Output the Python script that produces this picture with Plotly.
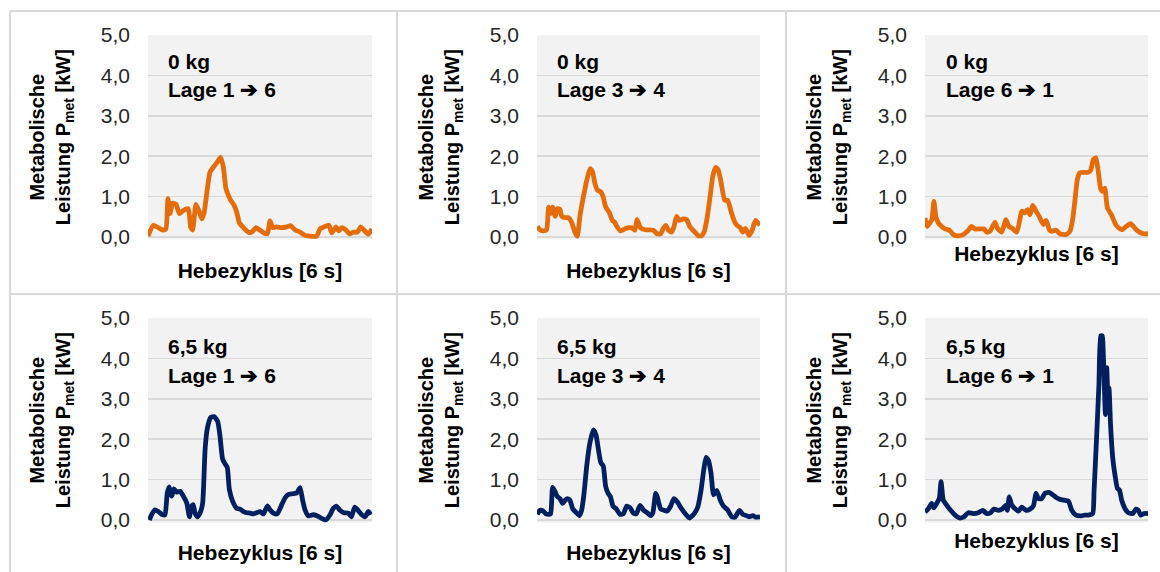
import plotly.graph_objects as go

W, H = 1160, 572

# ---------------- data (x = % of lifting cycle, y = metabolic power kW) ----------------
x_0kg_16 = [0, 2.4, 4.6, 6.8, 8.0, 8.9, 9.8, 11.0, 12.5, 14.0, 15.8, 18.0, 19.0, 19.9, 21.4, 22.9, 24.0, 25.0,
            26.2, 27.7, 29.5, 31.0, 32.4, 33.6, 34.8, 35.9, 36.9, 38.4, 39.6, 40.8, 42.6, 44.8, 46.3, 48.2, 50.0,
            51.8, 53.3, 54.5, 55.7, 57.4, 59.7, 61.9, 63.7, 65.6, 67.9, 70.1, 72.3, 75.3, 76.8, 79.0, 80.7, 82.1,
            83.9, 85.1, 86.5, 88.4, 89.9, 91.7, 93.5, 94.9, 96.4, 98.4, 100]
y_0kg_16 = [0.02, 0.29, 0.23, 0.17, 0.20, 0.95, 0.58, 0.84, 0.81, 0.58, 0.66, 0.70, 0.25, 0.17, 0.81, 0.62, 0.45, 0.58,
            1.07, 1.61, 1.75, 1.86, 1.97, 1.74, 1.20, 1.03, 0.91, 0.79, 0.62, 0.35, 0.23, 0.12, 0.12, 0.23, 0.17,
            0.10, 0.08, 0.40, 0.23, 0.25, 0.23, 0.25, 0.28, 0.18, 0.12, 0.04, 0.02, 0.02, 0.20, 0.26, 0.29, 0.10,
            0.25, 0.15, 0.23, 0.17, 0.08, 0.12, 0.12, 0.25, 0.17, 0.07, 0.20]

x_0kg_34 = [0.1, 1.3, 2.8, 4.3, 5.2, 6.1, 7.0, 8.2, 9.1, 10.3, 11.1, 12.6, 14.1, 15.5, 17.0, 18.1, 19.3, 20.8,
            22.3, 23.8, 24.9, 26.0, 27.1, 28.6, 29.7, 30.8, 32.3, 33.8, 34.8, 35.5, 37.5, 39.7, 41.9, 43.0, 43.9,
            44.9, 46.4, 48.4, 52.2, 53.7, 55.5, 56.6, 57.8, 58.9, 60.4, 61.4, 62.6, 63.8, 65.6, 67.1, 68.6, 70.8,
            72.3, 73.8, 74.9, 76.1, 77.6, 78.8, 80.0, 81.2, 82.4, 84.2, 85.5, 87.3, 88.7, 89.7, 91.1, 92.3, 93.5,
            95.1, 96.5, 98.0, 100]
y_0kg_34 = [0.26, 0.18, 0.15, 0.18, 0.74, 0.58, 0.74, 0.51, 0.70, 0.68, 0.51, 0.48, 0.48, 0.37, 0.12, 0.02, 0.54, 0.99,
            1.40, 1.69, 1.61, 1.32, 1.16, 1.12, 0.99, 0.74, 0.62, 0.41, 0.37, 0.29, 0.15, 0.21, 0.23, 0.21, 0.17,
            0.43, 0.23, 0.18, 0.17, 0.08, 0.08, 0.21, 0.29, 0.17, 0.12, 0.25, 0.51, 0.41, 0.45, 0.43, 0.25, 0.12,
            0.03, 0.03, 0.12, 0.41, 0.99, 1.49, 1.72, 1.67, 1.40, 0.91, 0.91, 0.58, 0.37, 0.29, 0.23, 0.12, 0.21,
            0.04, 0.17, 0.41, 0.29, 0.21, 0.17]

x_0kg_61 = [0, 1.0, 2.2, 3.1, 4.0, 4.9, 6.0, 7.5, 9.0, 10.9, 12.7, 14.9, 17.2, 19.0, 20.9, 22.4, 24.4, 26.5,
            27.7, 29.1, 30.3, 31.4, 32.4, 34.4, 36.3, 37.6, 39.0, 41.2, 42.6, 43.4, 44.8, 45.9, 47.1, 48.3, 49.8,
            51.3, 53.1, 54.3, 55.8, 56.8, 58.7, 60.5, 63.2, 65.0, 66.2, 67.3, 68.3, 69.5, 71.3, 73.2, 74.3, 75.5,
            76.6, 77.6, 78.7, 79.6, 80.6, 81.8, 83.6, 85.5, 87.0, 88.5, 90.0, 92.2, 94.4, 96.2, 98.0, 100]
y_0kg_61 = [0.47, 0.26, 0.35, 0.43, 0.88, 0.50, 0.35, 0.26, 0.20, 0.17, 0.06, 0.03, 0.06, 0.14, 0.26, 0.20, 0.20, 0.20,
            0.12, 0.14, 0.26, 0.36, 0.22, 0.12, 0.43, 0.26, 0.22, 0.12, 0.45, 0.64, 0.60, 0.68, 0.55, 0.78, 0.64,
            0.50, 0.31, 0.41, 0.18, 0.14, 0.17, 0.08, 0.06, 0.14, 0.43, 0.93, 1.42, 1.59, 1.60, 1.60, 1.65, 1.92,
            1.96, 1.67, 1.21, 1.13, 1.21, 0.72, 0.55, 0.31, 0.22, 0.18, 0.25, 0.33, 0.20, 0.12, 0.08, 0.08, 0.12]

x_65kg_16 = [0.6, 1.6, 3.1, 4.6, 6.5, 7.6, 8.6, 9.5, 10.6, 11.6, 12.8, 14.3, 15.8, 17.3, 18.5, 19.5, 20.2, 21.0,
             22.0, 23.2, 24.4, 25.5, 26.5, 28.0, 29.5, 31.1, 32.1, 33.3, 34.4, 35.4, 36.3, 37.8, 39.6, 41.1, 42.6,
             44.1, 45.5, 47.0, 48.5, 50.0, 51.5, 53.3, 54.5, 56.0, 57.7, 59.7, 61.2, 62.6, 64.6, 66.4, 67.9, 69.0,
             70.1, 71.6, 73.8, 75.6, 77.5, 79.3, 81.3, 82.7, 84.2, 85.7, 87.4, 89.4, 90.8, 92.3, 93.8, 95.4, 96.9,
             98.4, 99.4]
y_65kg_16 = [0.00, 0.13, 0.25, 0.21, 0.13, 0.13, 0.67, 0.82, 0.59, 0.77, 0.69, 0.71, 0.59, 0.42, 0.08, 0.35, 0.38, 0.17,
             0.08, 0.17, 0.42, 1.76, 2.27, 2.54, 2.56, 2.44, 2.10, 1.51, 1.39, 1.30, 0.76, 0.46, 0.29, 0.27, 0.21,
             0.18, 0.17, 0.15, 0.18, 0.21, 0.15, 0.35, 0.25, 0.17, 0.15, 0.38, 0.55, 0.63, 0.65, 0.67, 0.80, 0.50,
             0.25, 0.10, 0.13, 0.10, 0.04, 0.00, 0.13, 0.29, 0.34, 0.24, 0.18, 0.17, 0.08, 0.32, 0.24, 0.13, 0.08,
             0.21, 0.13]

x_65kg_34 = [0.1, 1.3, 2.8, 4.0, 5.1, 6.1, 7.0, 8.1, 9.1, 10.3, 11.5, 12.6, 13.7, 14.8, 16.0, 17.5, 19.0, 20.0,
             21.1, 22.3, 23.8, 25.3, 26.5, 27.5, 28.6, 29.7, 30.8, 31.9, 32.9, 34.1, 35.5, 37.2, 38.7, 40.2, 41.7,
             43.2, 44.5, 46.2, 47.8, 49.6, 51.0, 52.0, 53.2, 53.9, 55.4, 56.9, 58.4, 59.9, 61.4, 62.9, 64.8, 66.6,
             68.3, 69.8, 70.9, 72.1, 73.6, 74.8, 75.8, 76.9, 78.0, 79.2, 80.7, 82.2, 83.7, 85.5, 87.3, 88.8, 90.8,
             92.3, 93.8, 95.1, 96.8, 98.0, 100]
y_65kg_34 = [0.14, 0.24, 0.22, 0.15, 0.14, 0.15, 0.81, 0.70, 0.58, 0.53, 0.41, 0.49, 0.53, 0.49, 0.28, 0.19, 0.11, 0.24,
             0.66, 1.34, 1.93, 2.23, 2.10, 1.76, 1.42, 1.34, 0.83, 0.66, 0.58, 0.34, 0.28, 0.14, 0.15, 0.34, 0.31,
             0.17, 0.15, 0.36, 0.24, 0.17, 0.11, 0.19, 0.66, 0.58, 0.28, 0.24, 0.22, 0.34, 0.53, 0.45, 0.28, 0.15,
             0.05, 0.11, 0.19, 0.32, 0.75, 1.25, 1.55, 1.47, 1.17, 0.62, 0.73, 0.49, 0.34, 0.25, 0.08, 0.07, 0.24,
             0.14, 0.11, 0.08, 0.11, 0.07, 0.08]

x_65kg_61 = [0, 1.5, 3.0, 4.0, 5.2, 6.4, 7.2, 8.2, 9.7, 11.5, 13.5, 15.4, 17.2, 19.4, 21.7, 23.9, 25.9, 27.6, 29.4,
             30.9, 32.9, 34.8, 36.3, 36.9, 37.8, 38.9, 40.4, 41.9, 43.4, 45.3, 47.1, 48.6, 49.8, 50.8, 52.3, 53.8,
             55.8, 57.6, 59.0, 60.5, 62.3, 64.3, 65.8, 67.7, 69.5, 71.7, 73.2, 75.2, 75.8, 77.0, 78.0, 78.8, 79.5,
             79.9, 80.4, 80.9, 81.5, 82.0, 82.5, 83.2, 84.2, 85.2, 86.3, 87.2, 88.2, 89.7, 91.2, 93.2, 94.6, 95.7,
             96.7, 98.2, 100]
y_65kg_61 = [0.20, 0.28, 0.41, 0.30, 0.41, 0.53, 0.95, 0.49, 0.37, 0.24, 0.12, 0.05, 0.07, 0.18, 0.16, 0.18, 0.24, 0.16,
             0.18, 0.27, 0.24, 0.28, 0.37, 0.24, 0.57, 0.37, 0.28, 0.22, 0.32, 0.24, 0.27, 0.35, 0.66, 0.53, 0.53,
             0.66, 0.68, 0.61, 0.55, 0.51, 0.49, 0.47, 0.24, 0.12, 0.10, 0.12, 0.12, 0.16, 0.70, 2.11, 3.36, 4.56,
             4.56, 4.19, 3.36, 2.61, 3.77, 3.11, 3.27, 2.36, 1.53, 1.11, 0.78, 0.74, 0.49, 0.28, 0.18, 0.16, 0.27,
             0.24, 0.12, 0.16, 0.16]

titles_load = ["0 kg", "0 kg", "0 kg", "6,5 kg", "6,5 kg", "6,5 kg"]
titles_lage = ["Lage 1 \u2794 6", "Lage 3 \u2794 4", "Lage 6 \u2794 1",
               "Lage 1 \u2794 6", "Lage 3 \u2794 4", "Lage 6 \u2794 1"]
y_ticks = [0, 1, 2, 3, 4, 5]
y_ticktext = ["0,0", "1,0", "2,0", "3,0", "4,0", "5,0"]
x_title = "Hebezyklus [6 s]"
y_title = "Metabolische<br>Leistung P<sub>met</sub> [kW]"

series_x = [x_0kg_16, x_0kg_34, x_0kg_61, x_65kg_16, x_65kg_34, x_65kg_61]
series_y = [y_0kg_16, y_0kg_34, y_0kg_61, y_65kg_16, y_65kg_34, y_65kg_61]
colors = ["#E46C0A", "#E46C0A", "#E46C0A", "#002060", "#002060", "#002060"]

# ---------------- layout geometry (pixels) ----------------
col_x = [(148, 372), (537, 760), (925, 1148)]
row_y = [(35, 237), (318, 520)]   # (y of 5.0, y of 0.0)
ymin = -0.06
x_title_standoff = [23, 23, 6, 22, 22, 10]
y_title_standoff = 24


def fx(p):
    return p / W


def fy(p):
    return 1 - p / H


FONT = "Liberation Sans, Arial, sans-serif"
fig = go.Figure()
annotations = []
label_x = [166, 555, 944]
label_y = [(62, 89), (346, 375)]

for i in range(6):
    r, c = divmod(i, 3)
    n = i + 1
    xa = "xaxis" if n == 1 else f"xaxis{n}"
    ya = "yaxis" if n == 1 else f"yaxis{n}"
    y5, y0 = row_y[r]
    per = (y0 - y5) / 5.0
    ybot = y0 - ymin * per
    x0p, x1p = col_x[c]
    fig.add_trace(go.Scatter(
        x=series_x[i], y=series_y[i], mode="lines",
        line=dict(color=colors[i], width=4.8, shape="spline", smoothing=0.5),
        xaxis="x" if n == 1 else f"x{n}", yaxis="y" if n == 1 else f"y{n}",
        showlegend=False, hoverinfo="skip"))
    fig.update_layout(**{
        xa: dict(domain=[fx(x0p), fx(x1p)], range=[0, 100], showticklabels=False,
                 tickmode="array", tickvals=[],
                 showgrid=False, zeroline=False, showline=False, ticks="", automargin=False,
                 fixedrange=True, anchor="y" if n == 1 else f"y{n}",
                 title=dict(text=f"<b>{x_title}</b>", standoff=x_title_standoff[i],
                            font=dict(family=FONT, size=21, color="#000000"))),
        ya: dict(domain=[fy(ybot), fy(y5)], range=[ymin, 5.0], tickvals=y_ticks, ticktext=y_ticktext,
                 showgrid=True, gridcolor="#d9d9d9", gridwidth=1.5, zeroline=False, showline=False,
                 ticks="", ticklabelstandoff=17, automargin=False, fixedrange=True,
                 tickfont=dict(family=FONT, size=21, color="#262626"),
                 anchor="x" if n == 1 else f"x{n}",
                 title=dict(text=f"<b>{y_title}</b>", standoff=y_title_standoff,
                            font=dict(family=FONT, size=20, color="#000000"))),
    })
    # in-plot labels
    ly1, ly2 = label_y[r]
    annotations.append(dict(text=f"<b>{titles_load[i]}</b>", x=fx(label_x[c]), y=fy(ly1),
                            xref="paper", yref="paper", showarrow=False, xanchor="left", yanchor="middle",
                            font=dict(family=FONT, size=21, color="#000000")))
    annotations.append(dict(text=f"<b>{titles_lage[i]}</b>", x=fx(label_x[c]), y=fy(ly2),
                            xref="paper", yref="paper", showarrow=False, xanchor="left", yanchor="middle",
                            font=dict(family=FONT, size=21, color="#000000")))

border = dict(color="#d9d9d9", width=2)
shapes = [
    dict(type="line", xref="paper", yref="paper", x0=fx(10), x1=1, y0=fy(11), y1=fy(11), line=border),
    dict(type="line", xref="paper", yref="paper", x0=fx(10), x1=fx(10), y0=fy(11), y1=0, line=border),
    dict(type="line", xref="paper", yref="paper", x0=fx(397), x1=fx(397), y0=fy(11), y1=0, line=border),
    dict(type="line", xref="paper", yref="paper", x0=fx(786), x1=fx(786), y0=fy(11), y1=0, line=border),
    dict(type="line", xref="paper", yref="paper", x0=fx(10), x1=1, y0=fy(294), y1=fy(294), line=border),
]

fig.update_layout(
    template="none",
    width=W, height=H, margin=dict(l=0, r=0, t=0, b=0, pad=0, autoexpand=False),
    paper_bgcolor="#ffffff", plot_bgcolor="#f2f2f2",
    annotations=annotations, shapes=shapes, showlegend=False,
    font=dict(family=FONT),
)

post = ("document.documentElement.style.margin='0';document.body.style.margin='0';"
        "document.body.style.padding='0';document.body.style.overflow='hidden';"
        "var d=document.getElementById('{plot_id}');d.style.position='absolute';"
        "d.style.left='0px';d.style.top='0px';")
fig.write_html("out.html", post_script=post, config={"displayModeBar": False, "staticPlot": True})
